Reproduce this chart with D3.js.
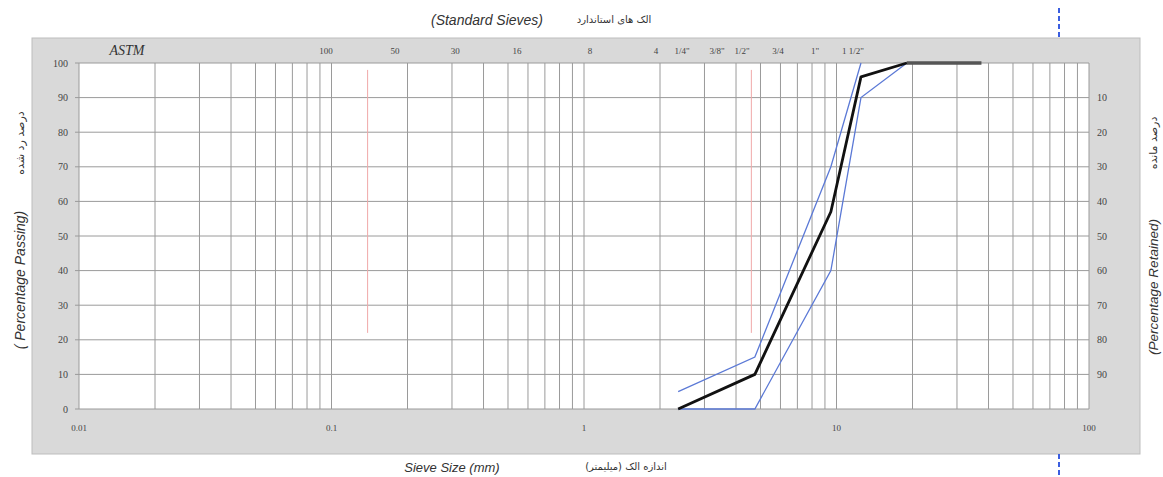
<!DOCTYPE html>
<html><head><meta charset="utf-8">
<script src="https://cdn.jsdelivr.net/npm/d3@7"></script>
<style>
body{margin:0;background:#fff;}
svg{display:block;}
</style></head>
<body>
<svg id="chart" width="1163" height="477"></svg>
<script>
// ---- data ----
const sieveSizesMm   = [2.36, 4.75, 9.5, 12.5, 19, 25, 37.5];
const gradingPassing = [0, 10, 57, 96, 100, 100, 100];
const upperSizesMm   = [2.36, 4.75, 9.5, 12.5];
const upperPassing   = [5, 15, 70, 100];
const lowerSizesMm   = [2.36, 4.75, 9.5, 12.5, 19];
const lowerPassing   = [0, 0, 40, 90, 100];
const sieveNames     = ["100", "50", "30", "16", "8", "4", "1/4\"", "3/8\"", "1/2\"", "3/4", "1\"", "1 1/2\""];
const sieveLabelAt   = [0.0951, 0.1785, 0.309, 0.543, 1.056, 1.928, 2.444, 3.364, 4.224, 5.866, 8.219, 11.62];
const markerSizesMm  = [0.139, 4.6];
const markerRange    = [22, 98];
const xTickValues    = [0.01, 0.1, 1, 10, 100];
const xTickLabels    = ["0.01", "0.1", "1", "10", "100"];
const passingTicks   = [0, 10, 20, 30, 40, 50, 60, 70, 80, 90, 100];
const retainedTicks  = [10, 20, 30, 40, 50, 60, 70, 80, 90];

const svg = d3.select("#chart");
const x = d3.scaleLog().domain([0.01, 100]).range([79, 1089]);
const y = d3.scaleLinear().domain([0, 100]).range([409, 63]);

// outer gray frame
svg.append("rect").attr("x", 32).attr("y", 38).attr("width", 1108).attr("height", 416)
  .attr("fill", "#d9d9d9").attr("stroke", "#bdbdbd").attr("stroke-width", 1);
// plot area
svg.append("rect").attr("x", x(0.01)).attr("y", y(100))
  .attr("width", x(100) - x(0.01)).attr("height", y(0) - y(100)).attr("fill", "#fff");

// vertical log grid
const gridVals = [];
for (let dec = 0.01; dec < 100; dec *= 10) {
  for (let k = 1; k <= 9; k++) gridVals.push(+(dec * k).toPrecision(3));
}
gridVals.push(100);
svg.append("g").selectAll("line").data(gridVals).join("line")
  .attr("x1", d => x(d)).attr("x2", d => x(d))
  .attr("y1", y(100)).attr("y2", y(0))
  .attr("stroke", "#9a9a9a").attr("stroke-width", 1);

// horizontal grid
svg.append("g").selectAll("line").data(passingTicks).join("line")
  .attr("x1", x(0.01) - 4).attr("x2", x(100))
  .attr("y1", d => y(d)).attr("y2", d => y(d))
  .attr("stroke", "#9a9a9a").attr("stroke-width", 1);

// faint red markers
svg.append("g").selectAll("line").data(markerSizesMm).join("line")
  .attr("x1", d => x(d)).attr("x2", d => x(d))
  .attr("y1", y(markerRange[1])).attr("y2", y(markerRange[0]))
  .attr("stroke", "#f0a8a8").attr("stroke-width", 1);

// curves
const line = d3.line().x(d => x(d[0])).y(d => y(d[1]));
const zip = (a, b) => a.map((v, i) => [v, b[i]]);
svg.append("path").datum(zip(upperSizesMm, upperPassing)).attr("d", line)
  .attr("fill", "none").attr("stroke", "#5b79d6").attr("stroke-width", 1.3);
svg.append("path").datum(zip(lowerSizesMm, lowerPassing)).attr("d", line)
  .attr("fill", "none").attr("stroke", "#5b79d6").attr("stroke-width", 1.3);
const grading = zip(sieveSizesMm, gradingPassing);
svg.append("path").datum(grading.filter(d => d[0] >= 19)).attr("d", line)
  .attr("fill", "none").attr("stroke", "#555").attr("stroke-width", 3.5);
svg.append("path").datum(grading.filter(d => d[0] <= 19)).attr("d", line)
  .attr("fill", "none").attr("stroke", "#111").attr("stroke-width", 2.8)
  .attr("stroke-linejoin", "round");

// left axis labels
svg.append("g").selectAll("text").data(passingTicks).join("text")
  .attr("x", 68).attr("y", d => y(d)).attr("dy", "0.35em")
  .attr("text-anchor", "end").attr("font-family", "Liberation Serif").attr("font-size", 10)
  .attr("fill", "#444").text(d => d);
// right axis labels (retained)
svg.append("g").selectAll("text").data(retainedTicks).join("text")
  .attr("x", 1097).attr("y", d => y(100 - d)).attr("dy", "0.35em")
  .attr("text-anchor", "start").attr("font-family", "Liberation Serif").attr("font-size", 10)
  .attr("fill", "#444").text(d => d);
// bottom x labels
svg.append("g").selectAll("text").data(xTickValues).join("text")
  .attr("x", d => x(d)).attr("y", 428).attr("dy", "0.35em")
  .attr("text-anchor", "middle").attr("font-family", "Liberation Serif").attr("font-size", 9)
  .attr("fill", "#444").text((d, i) => xTickLabels[i]);
// sieve labels
svg.append("g").selectAll("text").data(sieveNames).join("text")
  .attr("x", (d, i) => x(sieveLabelAt[i])).attr("y", 51).attr("dy", "0.35em")
  .attr("text-anchor", "middle").attr("font-family", "Liberation Serif").attr("font-size", 9)
  .attr("fill", "#444").text(d => d);
svg.append("text").attr("x", 127).attr("y", 50).attr("dy", "0.35em")
  .attr("text-anchor", "middle").attr("font-family", "Liberation Serif")
  .attr("font-style", "italic").attr("font-size", 14).attr("fill", "#333").text("ASTM");

// titles
const sans = "Liberation Sans";
svg.append("text").attr("x", 487).attr("y", 20).attr("dy", "0.35em").attr("text-anchor", "middle")
  .attr("font-family", sans).attr("font-style", "italic").attr("font-size", 14).attr("fill", "#333")
  .text("(Standard Sieves)");
svg.append("text").attr("x", 614).attr("y", 19).attr("dy", "0.35em").attr("text-anchor", "middle")
  .attr("font-family", "DejaVu Sans").attr("font-size", 10).attr("fill", "#333")
  .text("الک های استاندارد");
svg.append("text").attr("x", 452).attr("y", 467).attr("dy", "0.35em").attr("text-anchor", "middle")
  .attr("font-family", sans).attr("font-style", "italic").attr("font-size", 13).attr("fill", "#333")
  .text("Sieve Size (mm)");
svg.append("text").attr("x", 626).attr("y", 466).attr("dy", "0.35em").attr("text-anchor", "middle")
  .attr("font-family", "DejaVu Sans").attr("font-size", 10).attr("fill", "#333")
  .text("اندازه الک (میلیمتر)");

function vtext(cx, cy, txt, font, size, italic) {
  svg.append("text").attr("transform", `translate(${cx},${cy}) rotate(-90)`)
    .attr("dy", "0.35em").attr("text-anchor", "middle")
    .attr("font-family", font).attr("font-size", size)
    .attr("font-style", italic ? "italic" : "normal").attr("fill", "#333").text(txt);
}
vtext(20, 280, "( Percentage Passing)", sans, 14, true);
vtext(20, 143, "درصد رد شده", "DejaVu Sans", 11, false);
vtext(1153, 287, "(Percentage Retained)", sans, 13.5, true);
vtext(1153, 143, "درصد مانده", "DejaVu Sans", 11, false);

// blue dashed markers outside frame
[[8, 38], [454, 477]].forEach(r => {
  svg.append("line").attr("x1", 1059).attr("x2", 1059).attr("y1", r[0]).attr("y2", r[1])
    .attr("stroke", "#3b5ee0").attr("stroke-width", 2).attr("stroke-dasharray", "5,3");
});
</script>
</body></html>
